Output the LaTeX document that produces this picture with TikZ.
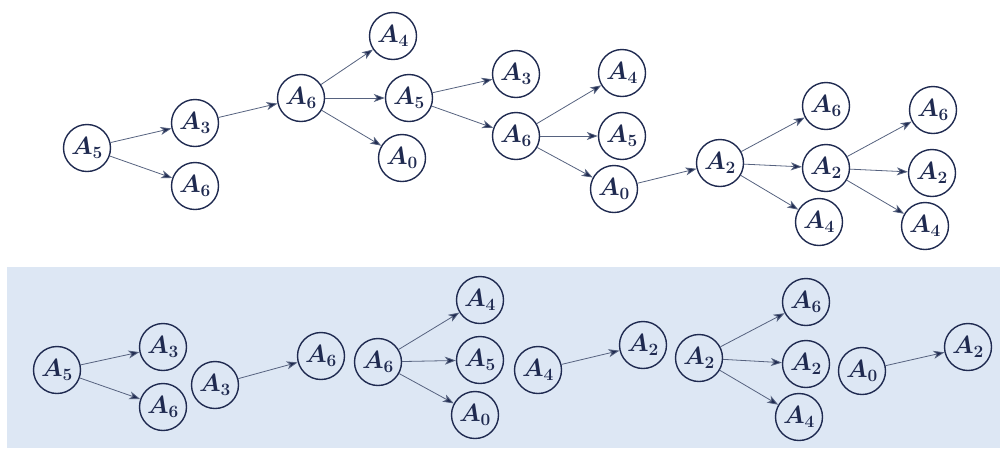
\documentclass[tikz,border=0pt]{standalone}
\usepackage{bm}
\usetikzlibrary{arrows.meta}
\definecolor{navy}{HTML}{1F2A50}
\definecolor{edgec}{HTML}{56627F}
\definecolor{bgblue}{HTML}{DDE7F4}
\tikzset{
  st/.style={circle,draw=navy,line width=1.4pt,minimum size=47pt,inner sep=0pt,text=navy,font=\fontsize{23}{26}\selectfont},
  ar/.style={draw=edgec,line width=0.8pt,-{Stealth[length=11pt,width=8pt,inset=3pt,fill=navy]}},
}
\newcommand{\lab}[1]{$\bm{A_{#1}}$}
\begin{document}
\begin{tikzpicture}[x=1pt,y=-1pt]
\useasboundingbox (0,0) rectangle (1000,448);
\fill[bgblue] (7,267) rectangle (1000,448);
% top
\node[st] (t1) at (87,148) {\lab5};
\node[st] (t2) at (195,123) {\lab3};
\node[st] (t3) at (195,186) {\lab6};
\node[st] (t4) at (301,98) {\lab6};
\node[st] (t5) at (393,36) {\lab4};
\node[st] (t6) at (409,98) {\lab5};
\node[st] (t7) at (402,158) {\lab0};
\node[st] (t8) at (516,74) {\lab3};
\node[st] (t9) at (516,136) {\lab6};
\node[st] (t10) at (622,73) {\lab4};
\node[st] (t11) at (622,136) {\lab5};
\node[st] (t12) at (614,189) {\lab0};
\node[st] (t13) at (720,163) {\lab2};
\node[st] (t14) at (826,106) {\lab6};
\node[st] (t15) at (826,168) {\lab2};
\node[st] (t16) at (819,222) {\lab4};
\node[st] (t17) at (933,110) {\lab6};
\node[st] (t18) at (932,173) {\lab2};
\node[st] (t19) at (925,226) {\lab4};
\draw[ar] (t1) -- (t2);
\draw[ar] (t1) -- (t3);
\draw[ar] (t2) -- (t4);
\draw[ar] (t4) -- (t5);
\draw[ar] (t4) -- (t6);
\draw[ar] (t4) -- (t7);
\draw[ar] (t6) -- (t8);
\draw[ar] (t6) -- (t9);
\draw[ar] (t9) -- (t10);
\draw[ar] (t9) -- (t11);
\draw[ar] (t9) -- (t12);
\draw[ar] (t12) -- (t13);
\draw[ar] (t13) -- (t14);
\draw[ar] (t13) -- (t15);
\draw[ar] (t13) -- (t16);
\draw[ar] (t15) -- (t17);
\draw[ar] (t15) -- (t18);
\draw[ar] (t15) -- (t19);
% bottom
\node[st] (b1) at (57,370) {\lab5};
\node[st] (b2) at (163,347) {\lab3};
\node[st] (b3) at (163,407) {\lab6};
\node[st] (b4) at (215,385) {\lab3};
\node[st] (b5) at (321,356) {\lab6};
\node[st] (b6) at (378,362) {\lab6};
\node[st] (b7) at (480,300) {\lab4};
\node[st] (b8) at (480,360) {\lab5};
\node[st] (b9) at (475,415) {\lab0};
\node[st] (b10) at (538,370) {\lab4};
\node[st] (b11) at (643,345) {\lab2};
\node[st] (b12) at (699,358) {\lab2};
\node[st] (b13) at (806,302) {\lab6};
\node[st] (b14) at (806,364) {\lab2};
\node[st] (b15) at (799,417) {\lab4};
\node[st] (b16) at (862,371) {\lab0};
\node[st] (b17) at (968,347) {\lab2};
\draw[ar] (b1) -- (b2);
\draw[ar] (b1) -- (b3);
\draw[ar] (b4) -- (b5);
\draw[ar] (b6) -- (b7);
\draw[ar] (b6) -- (b8);
\draw[ar] (b6) -- (b9);
\draw[ar] (b10) -- (b11);
\draw[ar] (b12) -- (b13);
\draw[ar] (b12) -- (b14);
\draw[ar] (b12) -- (b15);
\draw[ar] (b16) -- (b17);
\end{tikzpicture}
\end{document}
